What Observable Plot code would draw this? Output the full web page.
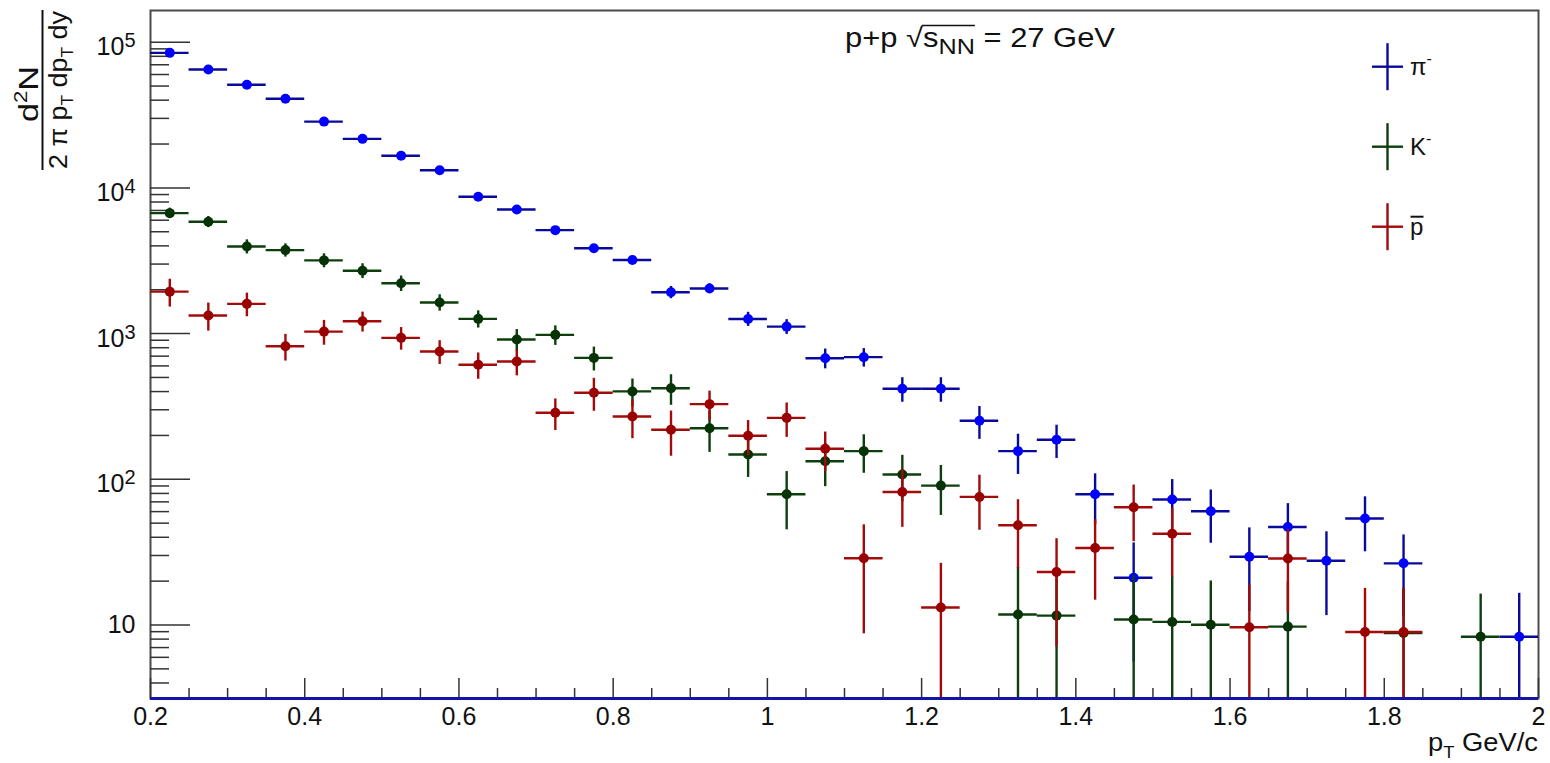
<!DOCTYPE html>
<html><head><meta charset="utf-8">
<script src="https://cdn.jsdelivr.net/npm/d3@7"></script>
<script src="https://cdn.jsdelivr.net/npm/@observablehq/plot@0.6"></script>
<style>
html,body{margin:0;padding:0;background:#fff;}
#chart{position:relative;width:1550px;height:763px;overflow:hidden;background:#fff}
</style></head><body><div id="chart"></div>
<script>
// ---- data (pT bin centres, yields, errors) ----
const piPt  = [0.225,0.275,0.325,0.375,0.425,0.475,0.525,0.575,0.625,0.675,0.725,0.775,0.825,0.875,0.925,0.975,1.025,1.075,1.125,1.175,1.225,1.275,1.325,1.375,1.425,1.475,1.525,1.575,1.625,1.675,1.725,1.775,1.825,1.975];
const piVal = [84500,65000,51000,40900,28500,21700,16600,13200,8700,7100,5130,3850,3200,1920,2040,1260,1117,678,689,418,418,252,156,187,79,21.1,72.6,60.4,29.4,47.1,27.6,53.8,26.5,8.3];
const piErr = [1200,900,700,600,450,350,300,250,200,180,150,120,110,185,157,140,130,105,100,80,80,64,48,48,30,15.5,27,24,17,21,16,22,15,8.2];

const kPt  = [0.225,0.275,0.325,0.375,0.425,0.475,0.525,0.575,0.625,0.675,0.725,0.775,0.825,0.875,0.925,0.975,1.025,1.075,1.125,1.175,1.225,1.325,1.375,1.475,1.525,1.575,1.675,1.825,1.925];
const kVal = [6710,5850,3960,3740,3180,2700,2214,1636,1262,910,980,681,401,422,224,148,79,133,156,108,90.5,11.8,11.6,10.9,10.5,10.05,9.75,8.8,8.3];
const kErr = [550,510,440,390,350,315,270,210,170,155,150,127,87,100,71,45,34,44,46,38,34,13,12,11,11,10,10,9,8];

const pPt  = [0.225,0.275,0.325,0.375,0.425,0.475,0.525,0.575,0.625,0.675,0.725,0.775,0.825,0.875,0.925,0.975,1.025,1.075,1.125,1.175,1.225,1.275,1.325,1.375,1.425,1.475,1.525,1.625,1.675,1.775,1.825];
const pVal = [1940,1330,1600,818,1032,1214,935,754,611,643,286,393,270,219,328,199,264,162,28.7,81.8,13.2,75.7,48.4,23.1,33.8,64.3,42.3,9.65,28.6,8.95,8.95];
const pErr = [420,290,295,170,200,190,165,140,125,130,70,100,80,75,75,54,70,49,20,35,13.3,31,24,16,19,27,21,9.2,16.5,8.9,8.9];

const binHalf = 0.025;
const xDomain = [0.2, 2.0];
const yDomain = [3.13, 1.65e5];
const xTicksMajor = [0.2,0.4,0.6,0.8,1,1.2,1.4,1.6,1.8,2];
const xTickLabels = ["0.2","0.4","0.6","0.8","1","1.2","1.4","1.6","1.8","2"];
const xMinor = [0.25,0.3,0.35,0.45,0.5,0.55,0.65,0.7,0.75,0.85,0.9,0.95,1.05,1.1,1.15,1.25,1.3,1.35,1.45,1.5,1.55,1.65,1.7,1.75,1.85,1.9,1.95];
const yTicksMajor = [10,100,1000,10000,100000];
const yTickLabels = ["10","10^2","10^3","10^4","10^5"];
const yMinorMult = [2,3,4,5,6,7,8,9];
const yDecades = [1,10,100,1000,10000,100000];
const legendNames = ["π^-","K^-","p̄"];
const titleParts = ["p+p ", "NN", " = 27 GeV"];

// ---- build ----
const font = "'Liberation Sans', Arial, Helvetica, sans-serif";
const yMinor = yDecades.flatMap(d => yMinorMult.map(m => m*d)).filter(v => v > yDomain[0] && v < yDomain[1]);
function mkRows(pt, val, err) {
  return pt.map((x, i) => ({x, x1: x - binHalf, x2: x + binHalf, y: val[i],
    lo: Math.max(val[i] - err[i], 1e-3), hi: val[i] + err[i]}));
}
const series = [
  {rows: mkRows(piPt, piVal, piErr), line: "#0a0a9a", marker: "#0000ff"},
  {rows: mkRows(kPt, kVal, kErr),   line: "#0c3f0c", marker: "#053305"},
  {rows: mkRows(pPt, pVal, pErr),   line: "#a30a0a", marker: "#990000"}
];
const axisColor = "#333";
const marks = [
  Plot.frame({stroke: "#4a4a4a", strokeWidth: 2}),
  Plot.axisX({ticks: xMinor, tickSize: -10, tickFormat: () => "", stroke: axisColor, strokeWidth: 1.5}),
  Plot.axisX({ticks: xTicksMajor, tickSize: -20, tickFormat: () => "", stroke: axisColor, strokeWidth: 1.5}),
  Plot.axisX({ticks: xTicksMajor, tickSize: 0, tickPadding: 9, fontSize: 25, fill: "#111",
    tickFormat: d => xTickLabels[xTicksMajor.indexOf(d)]}),
  Plot.axisY({ticks: yMinor, tickSize: -19, tickFormat: () => "", stroke: axisColor, strokeWidth: 1.5}),
  Plot.axisY({ticks: yTicksMajor, tickSize: -40, tickFormat: () => "", stroke: axisColor, strokeWidth: 1.5}),
  Plot.axisY({ticks: yTicksMajor, tickSize: 0, tickPadding: 15, fontSize: 25, fill: "#111",
    tickFormat: d => yTickLabels[yTicksMajor.indexOf(d)]})
];
for (const s of series) {
  marks.push(Plot.ruleY(s.rows, {y: "y", x1: "x1", x2: "x2", stroke: s.line, strokeWidth: 2.4}));
  marks.push(Plot.ruleX(s.rows, {x: "x", y1: "lo", y2: "hi", stroke: s.line, strokeWidth: 2.4}));
  marks.push(Plot.dot(s.rows, {x: "x", y: "y", r: 5, fill: s.marker, stroke: "none"}));
}
marks.push(Plot.ruleY([yDomain[0]], {stroke: "#1414a8", strokeWidth: 3}));

const svgEl = Plot.plot({
  width: 1550, height: 763,
  marginLeft: 150, marginRight: 12, marginTop: 10, marginBottom: 65,
  style: {fontFamily: font, background: "white", overflow: "visible"},
  x: {domain: xDomain, label: null},
  y: {type: "log", domain: yDomain, clamp: true, label: null},
  marks
});
document.getElementById("chart").appendChild(svgEl);
const svg = d3.select(svgEl);

// superscript exponents on y labels
svg.selectAll('g[aria-label="y-axis tick label"] text').each(function() {
  const t = this.textContent;
  const [b, e] = t.split("^");
  const sel = d3.select(this);
  sel.text(b);
  if (e) {
    sel.append("tspan").attr("dy", "-8").attr("font-size", "20").text(e);
    sel.attr("transform", (sel.attr("transform") || "") + " translate(0,5)");
  }
});

const ann = svg.append("g").attr("font-family", font).attr("fill", "#111").attr("text-anchor", "start");

// title
const tt = ann.append("text").attr("x", 845).attr("y", 47).attr("font-size", 27)
  .attr("textLength", 270).attr("lengthAdjust", "spacingAndGlyphs");
tt.append("tspan").text(titleParts[0]);
tt.append("tspan").attr("font-size", 27).text("√");
tt.append("tspan").text("s");
tt.append("tspan").attr("dy", 7).attr("font-size", 22).text(titleParts[1]);
tt.append("tspan").attr("dy", -7).text(titleParts[2]);
try {
  const n = tt.node();
  const r4 = n.getExtentOfChar(4), r7 = n.getExtentOfChar(7);
  ann.append("line").attr("x1", r4.x + r4.width - 1).attr("x2", r7.x + r7.width)
    .attr("y1", 25.5).attr("y2", 25.5).attr("stroke", "#111").attr("stroke-width", 1.5);
} catch (e) {}

// x axis title
const xt = ann.append("text").attr("x", 1428).attr("y", 751).attr("font-size", 25)
  .attr("textLength", 110).attr("lengthAdjust", "spacingAndGlyphs");
xt.append("tspan").text("p");
xt.append("tspan").attr("dy", 7).attr("font-size", 17).text("T");
xt.append("tspan").attr("dy", -7).text(" GeV/c");

// y axis title (fraction)
const num = ann.append("text").attr("transform", "translate(38,94) rotate(-90)")
  .attr("text-anchor", "middle").attr("font-size", 28)
  .attr("textLength", 56).attr("lengthAdjust", "spacingAndGlyphs");
num.append("tspan").text("d");
num.append("tspan").attr("dy", -11).attr("font-size", 18).text("2");
num.append("tspan").attr("dy", 11).text("N");
ann.append("line").attr("x1", 42.5).attr("x2", 42.5).attr("y1", 10).attr("y2", 170)
  .attr("stroke", "#111").attr("stroke-width", 2);
const den = ann.append("text").attr("transform", "translate(67,90) rotate(-90)")
  .attr("text-anchor", "middle").attr("font-size", 25)
  .attr("textLength", 158).attr("lengthAdjust", "spacingAndGlyphs");
den.append("tspan").text("2 π p");
den.append("tspan").attr("dy", 6).attr("font-size", 16).text("T");
den.append("tspan").attr("dy", -6).text(" dp");
den.append("tspan").attr("dy", 6).attr("font-size", 16).text("T");
den.append("tspan").attr("dy", -6).text(" dy");

// legend
const legY = [66.7, 146.7, 226.7];
series.forEach((s, i) => {
  const cy = legY[i];
  ann.append("line").attr("x1", 1372).attr("x2", 1403).attr("y1", cy).attr("y2", cy)
    .attr("stroke", s.line).attr("stroke-width", 2.4);
  ann.append("line").attr("x1", 1387.5).attr("x2", 1387.5).attr("y1", cy - 23.5).attr("y2", cy + 23.5)
    .attr("stroke", s.line).attr("stroke-width", 2.4);
  const [base, sup] = legendNames[i].split("^");
  const lt = ann.append("text").attr("x", 1410).attr("y", cy + 8).attr("font-size", 24);
  if (base === "p̄") {
    lt.text("p");
    ann.append("line").attr("x1", 1410.5).attr("x2", 1423.5).attr("y1", cy - 10).attr("y2", cy - 10)
      .attr("stroke", "#111").attr("stroke-width", 2);
  } else {
    lt.text(base);
    if (sup) lt.append("tspan").attr("dy", -11).attr("font-size", 16).text("-");
  }
});
</script></body></html>
